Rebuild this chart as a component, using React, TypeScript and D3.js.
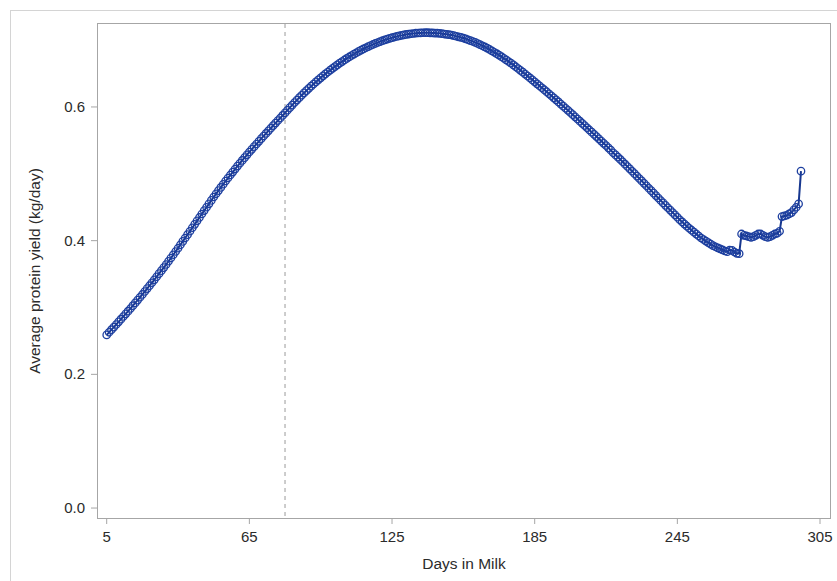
import React from 'react';
import * as d3 from 'd3';

// average protein yield (kg/day), one value per day in milk, starting at day 5
const firstDay = 5;
const protein = [
  0.2590, 0.2629, 0.2668, 0.2707, 0.2746, 0.2785, 0.2825, 0.2865, 0.2905, 0.2945,
  0.2985, 0.3027, 0.3069, 0.3111, 0.3153, 0.3195, 0.3239, 0.3283, 0.3326, 0.3370,
  0.3414, 0.3460, 0.3506, 0.3551, 0.3597, 0.3643, 0.3692, 0.3740, 0.3789, 0.3838,
  0.3887, 0.3938, 0.3989, 0.4039, 0.4090, 0.4141, 0.4193, 0.4244, 0.4296, 0.4347,
  0.4399, 0.4450, 0.4500, 0.4551, 0.4602, 0.4653, 0.4701, 0.4749, 0.4796, 0.4844,
  0.4892, 0.4937, 0.4982, 0.5026, 0.5071, 0.5116, 0.5158, 0.5200, 0.5242, 0.5284,
  0.5326, 0.5366, 0.5406, 0.5446, 0.5486, 0.5526, 0.5565, 0.5604, 0.5643, 0.5682,
  0.5721, 0.5759, 0.5797, 0.5835, 0.5873, 0.5911, 0.5951, 0.5990, 0.6028, 0.6066,
  0.6103, 0.6139, 0.6175, 0.6210, 0.6244, 0.6278, 0.6311, 0.6343, 0.6375, 0.6406,
  0.6436, 0.6466, 0.6495, 0.6523, 0.6551, 0.6578, 0.6604, 0.6630, 0.6655, 0.6679,
  0.6703, 0.6726, 0.6748, 0.6770, 0.6791, 0.6811, 0.6831, 0.6850, 0.6868, 0.6886,
  0.6903, 0.6919, 0.6935, 0.6950, 0.6964, 0.6978, 0.6991, 0.7003, 0.7015, 0.7026,
  0.7036, 0.7046, 0.7055, 0.7063, 0.7071, 0.7078, 0.7085, 0.7090, 0.7095, 0.7099,
  0.7103, 0.7106, 0.7108, 0.7110, 0.7111, 0.7111, 0.7109, 0.7107, 0.7105, 0.7103,
  0.7101, 0.7096, 0.7091, 0.7086, 0.7081, 0.7076, 0.7067, 0.7058, 0.7049, 0.7040,
  0.7031, 0.7018, 0.7005, 0.6992, 0.6979, 0.6966, 0.6949, 0.6932, 0.6915, 0.6898,
  0.6881, 0.6860, 0.6839, 0.6818, 0.6797, 0.6776, 0.6752, 0.6728, 0.6704, 0.6680,
  0.6656, 0.6629, 0.6602, 0.6575, 0.6548, 0.6521, 0.6492, 0.6463, 0.6434, 0.6405,
  0.6376, 0.6346, 0.6317, 0.6287, 0.6258, 0.6228, 0.6197, 0.6167, 0.6136, 0.6106,
  0.6075, 0.6043, 0.6012, 0.5980, 0.5949, 0.5917, 0.5885, 0.5852, 0.5820, 0.5787,
  0.5755, 0.5722, 0.5689, 0.5656, 0.5623, 0.5590, 0.5557, 0.5523, 0.5490, 0.5456,
  0.5423, 0.5388, 0.5354, 0.5315, 0.5283, 0.5250, 0.5215, 0.5180, 0.5144, 0.5109,
  0.5074, 0.5038, 0.5002, 0.4966, 0.4930, 0.4894, 0.4857, 0.4821, 0.4784, 0.4748,
  0.4711, 0.4674, 0.4638, 0.4601, 0.4565, 0.4528, 0.4492, 0.4457, 0.4421, 0.4386,
  0.4350, 0.4312, 0.4280, 0.4248, 0.4216, 0.4185, 0.4156, 0.4127, 0.4098, 0.4069,
  0.4040, 0.4017, 0.3994, 0.3971, 0.3948, 0.3925, 0.3909, 0.3893, 0.3877, 0.3861,
  0.3845, 0.3835, 0.3860, 0.3855, 0.3830, 0.3810, 0.3805, 0.4100, 0.4080, 0.4070,
  0.4060, 0.4050, 0.4060, 0.4080, 0.4100, 0.4100, 0.4080, 0.4060, 0.4050, 0.4060,
  0.4080, 0.4100, 0.4110, 0.4140, 0.4360, 0.4370, 0.4380, 0.4400, 0.4420, 0.4460,
  0.4500, 0.4550, 0.5040,
];
const xTicks = [5, 65, 125, 185, 245, 305];
const yTicks = [0.0, 0.2, 0.4, 0.6];
const refDay = 80;

const W = 837, H = 581;
const left = 98, right = 830, top = 24, bottom = 518;
const font = '"Liberation Sans", Arial, sans-serif';
const blue = '#1d3f9f';

export default function App() {
  const points = protein.map((v, i) => ({ day: firstDay + i, v }));

  const x = d3.scaleLinear().domain([1.34, 309.2]).range([left, right]);
  const y = d3.scaleLinear().domain([-0.0149, 0.7241]).range([bottom, top]);

  const line = d3.line<{ day: number; v: number }>()
    .x(d => x(d.day))
    .y(d => y(d.v));

  return (
    <svg width={W} height={H} style={{ position: 'absolute', left: 0, top: 0, background: '#fff' }}>
      {/* outer frame */}
      <rect x={10.5} y={10.5} width={900} height={700} fill="none" stroke="#d4d4d4" />

      {/* reference line */}
      <line x1={x(refDay)} x2={x(refDay)} y1={top} y2={bottom}
        stroke="#9a9a9a" strokeDasharray="4,4" />

      {/* series */}
      <path d={line(points) || ''} fill="none" stroke="#17378f" strokeWidth={2} />
      {points.map((p, i) => (
        <circle key={i} cx={x(p.day)} cy={y(p.v)} r={3.7}
          fill="none" stroke={blue} strokeWidth={1.3} />
      ))}

      {/* plot area border */}
      <rect x={left - 0.5} y={top - 0.5} width={right - left + 1} height={bottom - top + 1}
        fill="none" stroke="#a6a6a6" />

      {/* x axis */}
      {xTicks.map(t => (
        <g key={t}>
          <line x1={x(t)} x2={x(t)} y1={bottom + 0.5} y2={bottom + 6} stroke="#a6a6a6" />
          <text x={x(t)} y={542} textAnchor="middle" fontFamily={font} fontSize={15}
            fill="#2b2b2b">{t}</text>
        </g>
      ))}
      <text x={(left + right) / 2} y={569} textAnchor="middle" fontFamily={font}
        fontSize={15.5} fill="#2b2b2b">Days in Milk</text>

      {/* y axis */}
      {yTicks.map(t => (
        <g key={t}>
          <line x1={left - 7} x2={left - 0.5} y1={y(t)} y2={y(t)} stroke="#a6a6a6" />
          <text x={85} y={y(t) + 5} textAnchor="end" fontFamily={font} fontSize={15}
            fill="#2b2b2b">{t.toFixed(1)}</text>
        </g>
      ))}
      <text transform={`translate(40,${(top + bottom) / 2}) rotate(-90)`} textAnchor="middle"
        fontFamily={font} fontSize={15.5} fill="#2b2b2b">Average protein yield (kg/day)</text>
    </svg>
  );
}
